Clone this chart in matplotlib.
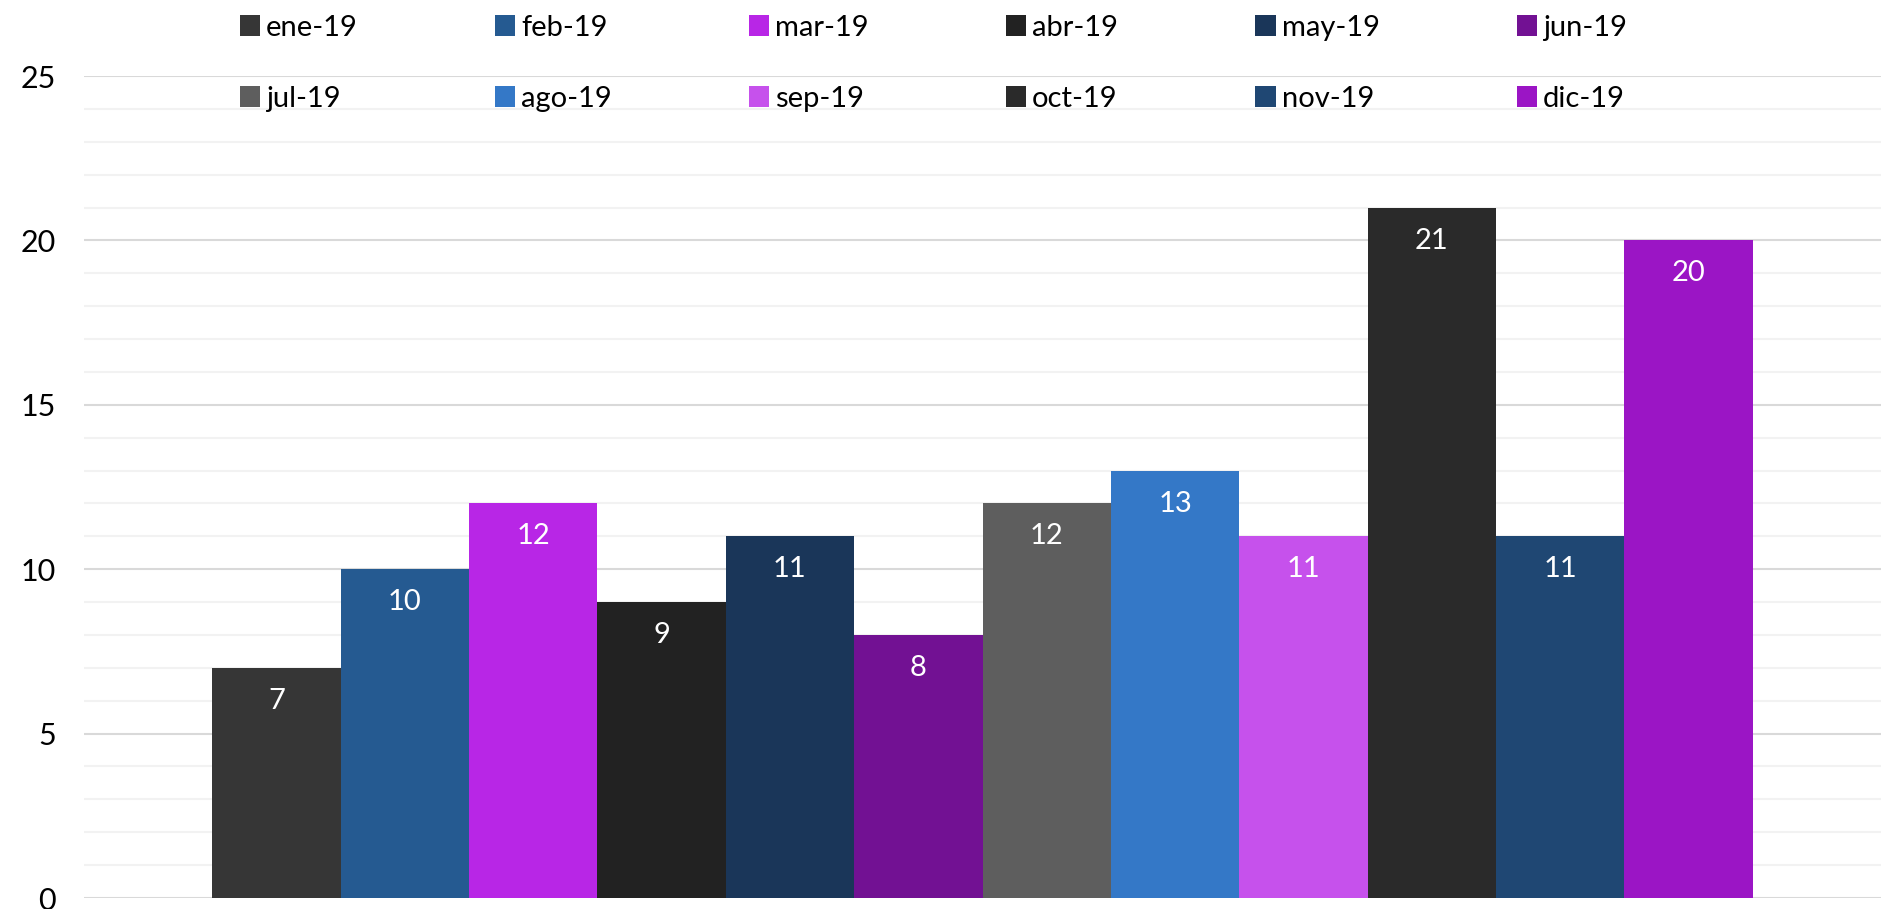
import matplotlib
matplotlib.use("Agg")
import matplotlib.pyplot as plt
from matplotlib.patches import Patch

plt.rcParams['font.family'] = ['Lato', 'DejaVu Sans']

months = ["ene-19", "feb-19", "mar-19", "abr-19", "may-19", "jun-19",
          "jul-19", "ago-19", "sep-19", "oct-19", "nov-19", "dic-19"]
values = [7, 10, 12, 9, 11, 8, 12, 13, 11, 21, 11, 20]
colors = ["#363636", "#255A91", "#B826E6", "#222222", "#1A3659", "#721193",
          "#5E5E5E", "#3478C7", "#C651EC", "#2A2A2A", "#1F4773", "#9B15C5"]
yticks = [0, 5, 10, 15, 20, 25]

fig = plt.figure(figsize=(18.91, 9.09), dpi=100)
ax = fig.add_axes([84/1891, 11/909, 1797/1891, 822/909])

n = len(values)
width = 1.0
positions = [(i - (n - 1) / 2) * width for i in range(n)]
bars = ax.bar(positions, values, width=width, color=colors, zorder=3)

for b, v in zip(bars, values):
    ax.annotate(str(v), xy=(b.get_x() + b.get_width() / 2, v),
                xytext=(0, -33), textcoords="offset pixels",
                ha="center", va="center", color="white", fontsize=21, zorder=4)

ax.set_xlim(-7, 7)
ax.set_ylim(0, 25)
ax.set_yticks(yticks)
ax.set_yticks(range(0, 26), minor=True)
ax.grid(axis="y", which="major", color="#D9D9D9", linewidth=1.5, zorder=1)
ax.grid(axis="y", which="minor", color="#F2F2F2", linewidth=1.5, zorder=0)
ax.set_xticks([])
for s in ax.spines.values():
    s.set_visible(False)
ax.tick_params(axis="y", which="both", length=0, labelsize=22, pad=20)
ax.set_axisbelow(True)
for lbl in ax.get_yticklabels():
    lbl.set_clip_on(False)

handles = [Patch(facecolor=c) for c in colors]
order = []
for i in range(6):
    order += [i, i + 6]
leg = fig.legend([handles[i] for i in order], [months[i] for i in order],
                 ncol=6, loc="upper left", bbox_to_anchor=(228/1891, 1 - 3/909),
                 frameon=False, fontsize=21, handlelength=0.7, handleheight=0.7,
                 handletextpad=0.2, columnspacing=4.7, labelspacing=1.55,
                 borderaxespad=0)

fig.savefig("out.png", dpi=100)
